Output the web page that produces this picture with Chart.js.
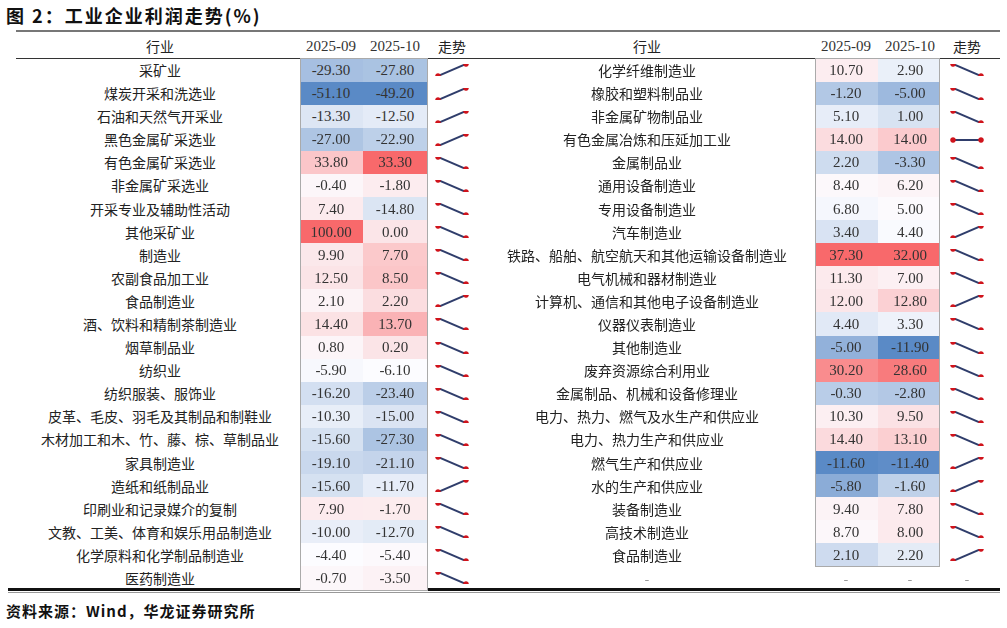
<!DOCTYPE html>
<html><head><meta charset="utf-8">
<script src="https://cdn.jsdelivr.net/npm/chart.js@4/dist/chart.umd.min.js"></script>
<style>
body{margin:0;width:1007px;height:628px;background:#fff;position:relative;overflow:hidden;font-family:"Noto Sans CJK SC",sans-serif}
.a{position:absolute;white-space:nowrap}
.t{font-size:14px;color:#222;text-align:center;transform:translateY(-50%)}
.n{font-family:"Liberation Serif","DejaVu Serif",serif;font-size:15px;color:#333}
</style></head><body>
<script>
const leftNames=["采矿业","煤炭开采和洗选业","石油和天然气开采业","黑色金属矿采选业","有色金属矿采选业","非金属矿采选业","开采专业及辅助性活动","其他采矿业","制造业","农副食品加工业","食品制造业","酒、饮料和精制茶制造业","烟草制品业","纺织业","纺织服装、服饰业","皮革、毛皮、羽毛及其制品和制鞋业","木材加工和木、竹、藤、棕、草制品业","家具制造业","造纸和纸制品业","印刷业和记录媒介的复制","文教、工美、体育和娱乐用品制造业","化学原料和化学制品制造业","医药制造业"];
const left09=[-29.3,-51.1,-13.3,-27.0,33.8,-0.4,7.4,100.0,9.9,12.5,2.1,14.4,0.8,-5.9,-16.2,-10.3,-15.6,-19.1,-15.6,7.9,-10.0,-4.4,-0.7];
const left10=[-27.8,-49.2,-12.5,-22.9,33.3,-1.8,-14.8,0.0,7.7,8.5,2.2,13.7,0.2,-6.1,-23.4,-15.0,-27.3,-21.1,-11.7,-1.7,-12.7,-5.4,-3.5];
const rightNames=["化学纤维制造业","橡胶和塑料制品业","非金属矿物制品业","有色金属冶炼和压延加工业","金属制品业","通用设备制造业","专用设备制造业","汽车制造业","铁路、船舶、航空航天和其他运输设备制造业","电气机械和器材制造业","计算机、通信和其他电子设备制造业","仪器仪表制造业","其他制造业","废弃资源综合利用业","金属制品、机械和设备修理业","电力、热力、燃气及水生产和供应业","电力、热力生产和供应业","燃气生产和供应业","水的生产和供应业","装备制造业","高技术制造业","食品制造业"];
const right09=[10.7,-1.2,5.1,14.0,2.2,8.4,6.8,3.4,37.3,11.3,12.0,4.4,-5.0,30.2,-0.3,10.3,14.4,-11.6,-5.8,9.4,8.7,2.1];
const right10=[2.9,-5.0,1.0,14.0,-3.3,6.2,5.0,4.4,32.0,7.0,12.8,3.3,-11.9,28.6,-2.8,9.5,13.1,-11.4,-1.6,7.8,8.0,2.2];
const headers=["行业","2025-09","2025-10","走势"];

const Y0=70, DY=23.09;
function add(html,cls,style){const d=document.createElement('div');d.className='a '+cls;d.style.cssText=style;d.textContent=html;document.body.appendChild(d);return d;}
function hline(y,h,c,x1,x2){const d=document.createElement('div');d.className='a';d.style.cssText=`left:${x1}px;top:${y}px;width:${x2-x1}px;height:${h}px;background:${c}`;document.body.appendChild(d);}
function mix(a,b,t){return 'rgb('+a.map((v,i)=>Math.round(v+(b[i]-v)*t)).join(',')+')';}
const RED=[248,105,107],WH=[252,252,255],BL=[90,138,198];
function scaler(arr){const s=[...arr].sort((a,b)=>a-b);const mn=s[0],mx=s[s.length-1];const md=s.length%2?s[(s.length-1)/2]:(s[s.length/2-1]+s[s.length/2])/2;
 return v=>v>=md?mix(WH,RED,mx===md?0:(v-md)/(mx-md)):mix(WH,BL,(md-v)/(md-mn));}

add("图 2：工业企业利润走势(%)","", "left:6px;top:2px;font-size:18px;font-weight:bold;color:#111;letter-spacing:2px");
hline(30,2,'#777',16,1000);
hline(58,1,'#333',16,1000);
hline(588,3,'#111',8,1000);
hline(592,1,'#999',8,1000);
add("资料来源：Wind，华龙证券研究所","","left:6px;top:600px;font-size:15px;font-weight:bold;color:#111;letter-spacing:1px");

function table(names,v9,v10,cx,c9,c10,cs,bx1,bx2,rows){
 const hx=[cx,c9,c10,cs];
 headers.forEach((h,i)=>{add(h,'t'+(i==1||i==2?' n':''),`left:${hx[i]-60}px;width:120px;top:46px`);});
 const s9=scaler(v9),s10=scaler(v10);
 const box=document.createElement('div');box.className='a';
 box.style.cssText=`left:${bx1}px;top:58px;width:${bx2-bx1}px;height:${(names.length)*DY+Y0-DY/2-58+1}px;border:1px solid #aaa;box-sizing:border-box;z-index:2`;
 document.body.appendChild(box);
 names.forEach((nm,i)=>{
  const y=Y0+i*DY, top=y-DY/2;
  add(nm,'t',`left:${cx-200}px;width:400px;top:${y}px`);
  const mid=(c9+c10)/2;
  [[v9[i],s9,bx1,mid],[v10[i],s10,mid,bx2]].forEach(([v,s,x1,x2],k)=>{
   const c=document.createElement('div');c.className='a';c.style.cssText=`left:${x1}px;top:${top}px;width:${x2-x1}px;height:${DY+0.5}px;background:${s(v)}`;document.body.appendChild(c);
   add(v.toFixed(2),'t n',`left:${(k?c10:c9)-40}px;width:80px;top:${y}px`);
  });
  const a=v9[i],b=v10[i];
  const lo=a===b?a-1:Math.min(a,b), hi=a===b?a+1:Math.max(a,b);
  const cv=document.createElement('canvas');cv.width=40;cv.height=24;cv.className='a';cv.style.cssText=`left:${cs-20}px;top:${top}px;width:40px;height:24px`;document.body.appendChild(cv);
  new Chart(cv,{type:'line',data:{labels:['2025-09','2025-10'],datasets:[{data:[a,b],borderColor:'#2f3d6b',borderWidth:2,pointRadius:1.8,pointBackgroundColor:'#d0141c',pointBorderColor:'#d0141c'}]},
   options:{responsive:false,animation:false,devicePixelRatio:2,layout:{padding:{left:5,right:5,top:3,bottom:3}},plugins:{legend:{display:false},tooltip:{enabled:false}},
   scales:{x:{display:false,offset:false},y:{display:false,min:lo,max:hi,grace:0}}}});
 });
 for(let i=names.length;i<rows;i++){const y=Y0+i*DY;[cx,c9,c10,cs].forEach(x=>add('-','t',`left:${x-20}px;width:40px;top:${y}px;color:#999`));}
}
table(leftNames,left09,left10,160,331,395,452,300,428,23);
table(rightNames,right09,right10,647,846,910,967,815,940,23);
</script>
</body></html>
